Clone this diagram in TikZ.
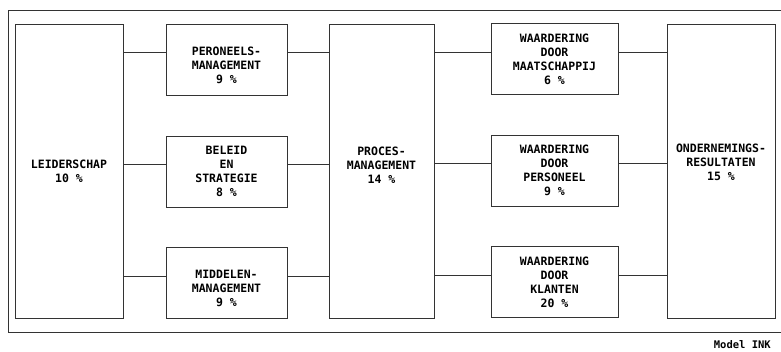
\documentclass[tikz,border=0pt]{standalone}
\usepackage{fontspec}
\newfontfamily\inkfont{DejaVu Sans Mono}
\usepackage{tikz}
\usetikzlibrary{positioning,calc}
\newcommand{\inkstack}[2]{\raisebox{#1}[0pt][0pt]{\begin{tabular}{@{}c@{}}#2\end{tabular}}}

\begin{document}
\begin{tikzpicture}[
    x=1pt, y=-1pt,
    box/.style={
      rectangle, draw=black!80, line width=0.9pt, fill=white,
      align=center, inner sep=0pt,
      font=\inkfont\bfseries\fontsize{11.5}{14}\selectfont
    },
    tall/.style={box, minimum width=#1, minimum height=294pt},
    small/.style={box, minimum width=#1, minimum height=71pt},
    link/.style={draw=black!80, line width=0.9pt}
  ]
  \useasboundingbox (0,0) rectangle (781,351);

  %% Outer frame (open to the right)
  \draw[link] (781,10) -- (8,10) -- (8,332) -- (781,332);

  %% Tall columns
  \node[tall=108pt] (lead) at (69,171)  {LEIDERSCHAP\\10 \%};
  \node[tall=105pt] (proc) at (381.5,171) {\inkstack{1pt}{PROCES-\\MANAGEMENT\\14 \%}};
  \node[tall=108pt] (res)  at (721,171) {\inkstack{4pt}{ONDERNEMINGS-\\RESULTATEN\\15 \%}};

  %% Management boxes
  \node[small=121pt] (pers) at (226.5,59.5)  {\inkstack{-10pt}{PERONEELS-\\MANAGEMENT\\9 \%}};
  \node[small=121pt] (bel)  at (226.5,171.5) {BELEID\\EN\\STRATEGIE\\8 \%};
  \node[small=121pt] (mid)  at (226.5,283)   {\inkstack{-10pt}{MIDDELEN-\\MANAGEMENT\\9 \%}};

  %% Appreciation boxes
  \node[small=127pt] (maat) at (554.5,59)  {WAARDERING\\DOOR\\MAATSCHAPPIJ\\6 \%};
  \node[small=127pt] (wpers) at (554.5,170.5) {WAARDERING\\DOOR\\PERSONEEL\\9 \%};
  \node[small=127pt] (klant) at (554.5,282) {WAARDERING\\DOOR\\KLANTEN\\20 \%};

  %% Connectors
  \foreach \n in {pers,bel,mid} {
    \draw[link] ([yshift=7pt]\n.west -| lead.east) -- ([yshift=7pt]\n.west);
    \draw[link] ([yshift=7pt]\n.east) -- ([yshift=7pt]\n.east -| proc.west);
  }
  \foreach \n in {maat,wpers,klant} {
    \draw[link] ([yshift=7pt]\n.west -| proc.east) -- ([yshift=7pt]\n.west);
    \draw[link] ([yshift=7pt]\n.east) -- ([yshift=7pt]\n.east -| res.west);
  }

  %% Caption
  \node[anchor=east, font=\inkfont\bfseries\fontsize{10.5}{13}\selectfont,
        inner sep=0pt] (cap) at (771,345) {Model INK};

\end{tikzpicture}
\end{document}
